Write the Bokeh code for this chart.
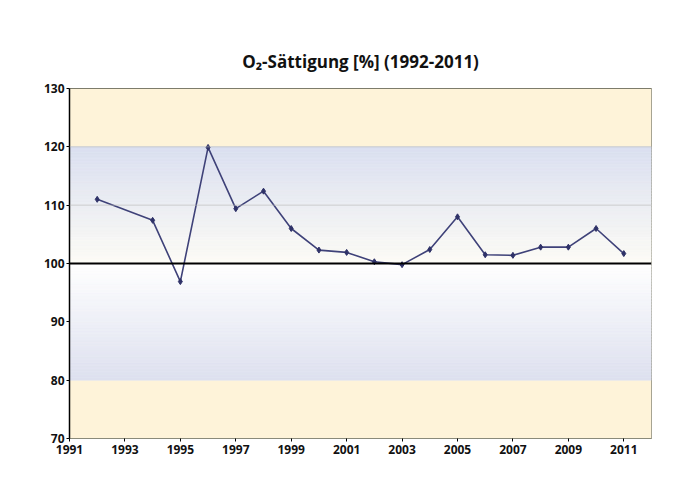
import numpy as np
from bokeh.plotting import figure
from bokeh.models import Span, FixedTicker, Range1d
from bokeh.embed import file_html
from bokeh.resources import INLINE

years = [1992, 1994, 1995, 1996, 1997, 1998, 1999, 2000, 2001, 2002,
         2003, 2004, 2005, 2006, 2007, 2008, 2009, 2010, 2011]
saturation = [111.0, 107.4, 96.9, 119.9, 109.4, 112.4, 106.0, 102.3, 101.9, 100.3,
              99.8, 102.4, 108.0, 101.5, 101.4, 102.8, 102.8, 106.0, 101.7]
x_ticks = [1991, 1993, 1995, 1997, 1999, 2001, 2003, 2005, 2007, 2009, 2011]
y_ticks = [70, 80, 90, 100, 110, 120, 130]
title_text = "O\u2082-Sättigung [%] (1992-2011)"

FONT = "Open Sans"

p = figure(width=680, height=478, output_backend="svg", toolbar_location=None,
           x_range=Range1d(1991, 2012), y_range=Range1d(70, 130),
           min_border_left=69, min_border_right=29, min_border_top=88, min_border_bottom=40)
p.title.text = title_text
p.title.align = "center"
p.title.text_font = FONT
p.title.text_font_style = "bold"
p.title.text_font_size = "17px"
p.title.text_color = "#111111"
p.title.standoff = 32

p.background_fill_color = "white"
p.border_fill_color = "white"
p.outline_line_color = "#8a8a7a"
p.outline_line_width = 1
p.xgrid.visible = False
p.ygrid.visible = False

# background bands (styling)
p.quad(left=1991, right=2012, bottom=120, top=130, fill_color="#fef3d9", line_color=None)
p.quad(left=1991, right=2012, bottom=70, top=80, fill_color="#fef3d9", line_color=None)

def lerp(c1, c2, t):
    return "#%02x%02x%02x" % tuple(int(round(a + (b - a) * t)) for a, b in zip(c1, c2))

lav = (0xda, 0xdf, 0xf0)
cream = (0xfd, 0xfc, 0xf6)
white = (0xff, 0xff, 0xff)
n = 40
edges = np.linspace(100, 120, n + 1)
cols1 = [lerp(cream, lav, (i + 0.5) / n) for i in range(n)]
p.quad(left=1991, right=2012, bottom=edges[:-1], top=edges[1:],
       fill_color=cols1, line_color=cols1, line_width=0.6)
edges2 = np.linspace(80, 100, n + 1)
cols2 = [lerp((0xdd, 0xe0, 0xef), white, (i + 0.5) / n) for i in range(n)]
p.quad(left=1991, right=2012, bottom=edges2[:-1], top=edges2[1:],
       fill_color=cols2, line_color=cols2, line_width=0.6)

# faint grid lines
for yv in (110, 120):
    p.add_layout(Span(location=yv, dimension="width", line_color="#b8b8b8", line_width=1, line_alpha=0.6))
p.add_layout(Span(location=130, dimension="width", line_color="#555544", line_width=1.2))
p.add_layout(Span(location=100, dimension="width", line_color="black", line_width=2))

p.line(years, saturation, line_color="#3f4279", line_width=1.6)
p.scatter(years, saturation, marker="diamond", size=6, fill_color="#2f3268", line_color="#2f3268")

for ax in (p.xaxis, p.yaxis):
    ax.major_label_text_font = FONT
    ax.major_label_text_font_style = "bold"
    ax.major_label_text_font_size = "12px"
    ax.major_label_text_color = "#111111"
    ax.axis_line_color = "black"
    ax.axis_line_width = 1.5
    ax.major_tick_line_color = "black"
    ax.major_tick_in = 0
    ax.major_tick_out = 3
    ax.minor_tick_line_color = None

p.xaxis.ticker = FixedTicker(ticks=x_ticks)
p.yaxis.ticker = FixedTicker(ticks=y_ticks)
p.xaxis.axis_line_color = "#8a8a7a"
p.xaxis.axis_line_width = 1
p.xaxis.major_label_standoff = 3
p.yaxis.major_label_standoff = 2

open("out.html", "w").write(file_html(p, INLINE))
